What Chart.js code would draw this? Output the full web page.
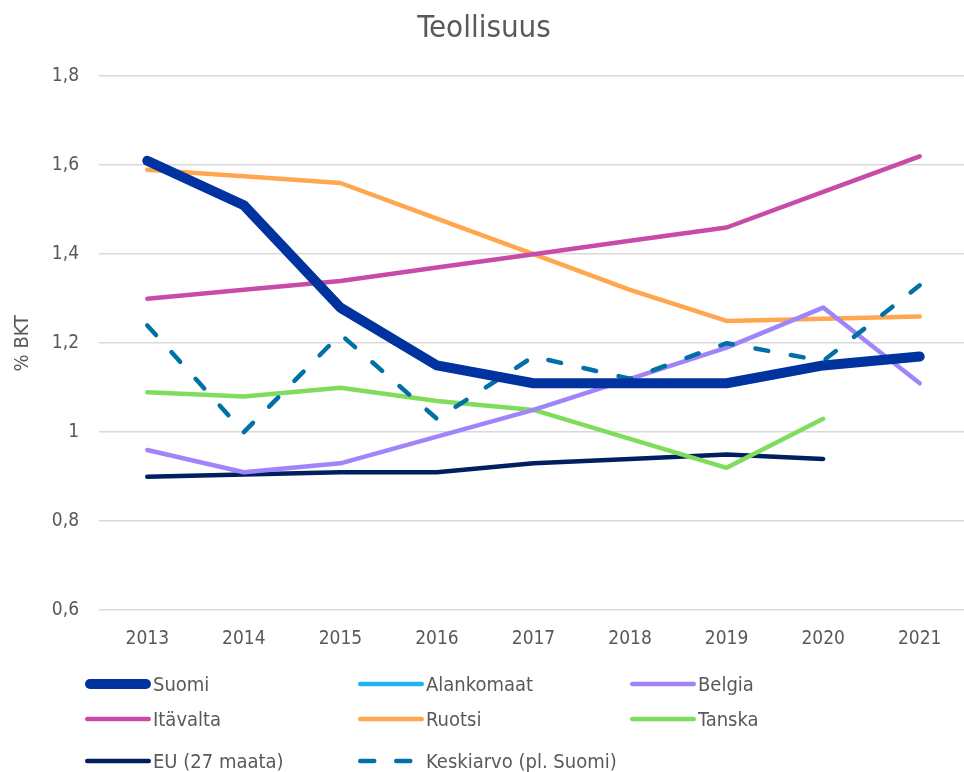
<!DOCTYPE html>
<html><head><meta charset="utf-8">
<script src="https://cdn.jsdelivr.net/npm/chart.js@4"></script>
<style>
html,body{margin:0;padding:0;background:#fff;overflow:hidden;}
#wrap{position:relative;width:964px;height:772px;overflow:hidden;}
#c{position:absolute;left:0;top:0;}
#legend{position:absolute;left:0;top:0;width:964px;height:772px;pointer-events:none;font-family:"DejaVu Sans Condensed","DejaVu Sans",sans-serif;font-size:20px;color:#595959;}
.li{position:absolute;display:flex;align-items:center;white-space:nowrap;}
.li canvas{margin-right:1px;}
</style></head>
<body><div id="wrap"><canvas id="c" width="968" height="772"></canvas><div id="legend"></div></div>
<script>
const years = ["2013","2014","2015","2016","2017","2018","2019","2020","2021"];
const suomi = [1.61,1.51,1.28,1.15,1.11,1.11,1.11,1.15,1.17];
const alankomaat = [null,null,null,null,null,null,null,null,null];
const belgia = [0.96,0.91,0.93,0.99,1.05,1.12,1.19,1.28,1.11];
const itavalta = [1.30,1.32,1.34,1.37,1.40,1.43,1.46,1.54,1.62];
const ruotsi = [1.59,1.575,1.56,1.48,1.40,1.32,1.25,1.255,1.26];
const tanska = [1.09,1.08,1.10,1.07,1.05,0.985,0.92,1.03,null];
const eu27 = [0.90,0.905,0.91,0.91,0.93,0.94,0.95,0.94,null];
const keskiarvo = [1.24,1.00,1.22,1.03,1.17,1.12,1.20,1.16,1.33];
const yTicks = [0.6,0.8,1.0,1.2,1.4,1.6,1.8];

const FONT = '"DejaVu Sans Condensed","DejaVu Sans",sans-serif';
const GREY = '#595959';
function ds(label, data, color, width, dash){
  return {label, data, borderColor: color, backgroundColor: color, borderWidth: width,
    borderDash: dash || [], borderCapStyle: 'round', borderJoinStyle: 'round',
    pointRadius: 0, pointHoverRadius: 0, tension: 0, spanGaps: false, fill: false};
}
const datasets = [
  ds('Suomi', suomi, '#0033a0', 10),
  ds('Alankomaat', alankomaat, '#22b4f2', 4.5),
  ds('Belgia', belgia, '#a084fa', 4.5),
  ds('Itävalta', itavalta, '#c84ba8', 4.5),
  ds('Ruotsi', ruotsi, '#ffa64f', 4.5),
  ds('Tanska', tanska, '#80dc5c', 4.5),
  ds('EU (27 maata)', eu27, '#001f5e', 4.5),
  ds('Keskiarvo (pl. Suomi)', keskiarvo, '#0070a6', 4.5, [13,23])
];
datasets.forEach(d => { d.order = (d.label==='Suomi') ? 0 : (d.label==='Keskiarvo (pl. Suomi)' ? 1 : 2); });

const chart = new Chart(document.getElementById('c'), {
  type: 'line',
  data: { labels: years, datasets },
  options: {
    responsive: false, animation: false,
    layout: { padding: { left: 0, right: 0, top: 0, bottom: 105 } },
    plugins: {
      legend: { display: false },
      tooltip: { enabled: false },
      title: { display: true, text: 'Teollisuus', color: GREY,
        font: { family: FONT, size: 31, weight: 'normal' }, padding: { top: 10, bottom: 29 } }
    },
    scales: {
      x: { offset: true,
        grid: { display: false, drawTicks: false },
        border: { display: false },
        ticks: { color: GREY, font: { family: FONT, size: 19 }, padding: 17, maxRotation: 0 } },
      y: { min: 0.6, max: 1.8,
        afterBuildTicks: (ax) => { ax.ticks = yTicks.map(v => ({ value: v })); },
        afterFit: (ax) => { ax.width = 99; },
        grid: { color: '#d9d9d9', lineWidth: 1.5, drawTicks: false },
        border: { display: false },
        title: { display: true, text: '% BKT', color: GREY, font: { family: FONT, size: 20 }, padding: { top: 11, bottom: 0 } },
        ticks: { color: GREY, font: { family: FONT, size: 19 }, padding: 20,
          callback: v => String(Math.round(v*10)/10).replace('.', ',') } }
    }
  }
});

// HTML legend built from the chart's datasets
const cols = [85, 358, 630];
const rows = [684, 719, 761];
const leg = document.getElementById('legend');
chart.data.datasets.forEach((d, i) => {
  const el = document.createElement('div');
  el.className = 'li';
  el.style.left = (cols[i % 3] - 3) + 'px';
  el.style.top = (rows[Math.floor(i / 3)] - 13) + 'px';
  el.style.height = '26px';
  const sw = document.createElement('canvas');
  sw.width = 70; sw.height = 14;
  const g = sw.getContext('2d');
  g.strokeStyle = d.borderColor; g.lineWidth = d.borderWidth; g.lineCap = 'round';
  g.setLineDash(d.borderDash.length ? [14, 22] : []);
  g.beginPath(); g.moveTo(3 + d.borderWidth / 2, 7); g.lineTo(3 + 66 - d.borderWidth / 2, 7); g.stroke();
  el.appendChild(sw);
  const t = document.createElement('span');
  t.textContent = d.label;
  el.appendChild(t);
  leg.appendChild(el);
});
</script></body></html>
